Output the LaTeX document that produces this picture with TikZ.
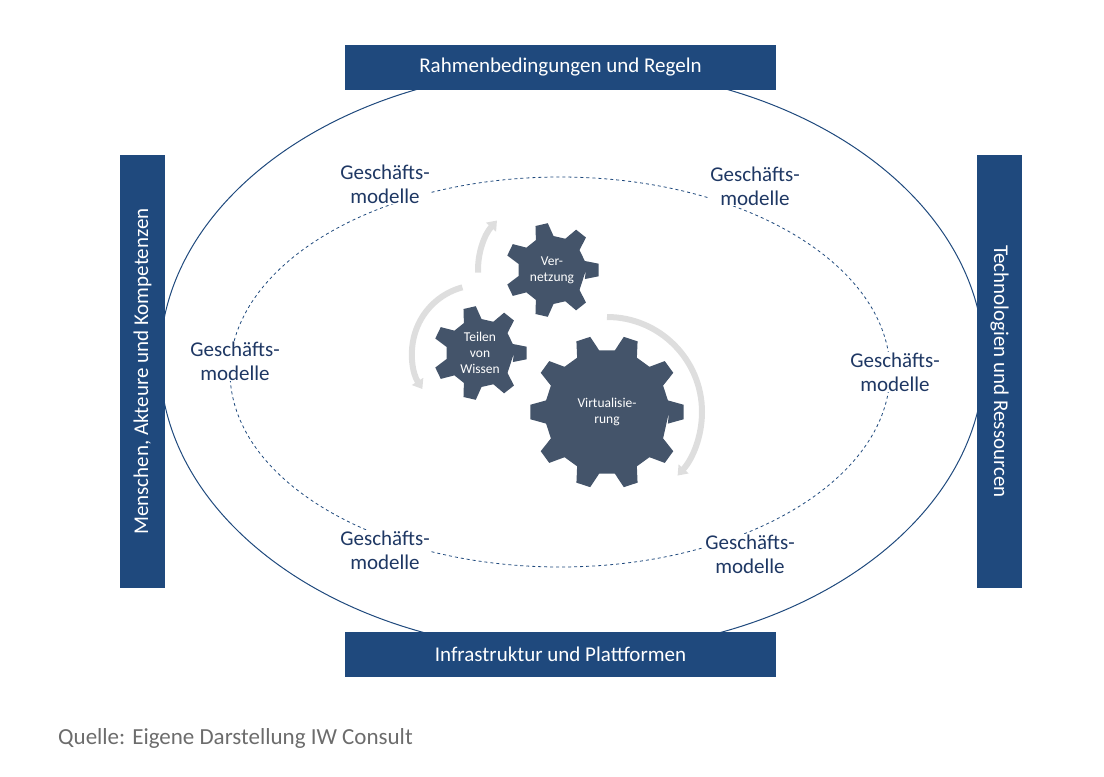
\documentclass[tikz,border=0pt]{standalone}
\usepackage{fontspec}
\setmainfont{Carlito}
\usetikzlibrary{arrows.meta,calc}

\definecolor{boxblue}{RGB}{31,73,125}
\definecolor{textblue}{RGB}{31,56,100}
\definecolor{gearslate}{RGB}{68,84,106}
\definecolor{arrowgrey}{RGB}{222,222,222}

% name, teeth, inner radius, outer radius
\newcommand{\gearshape}[4]{%
  \fill[gearslate] ($(#1)+(0:#3)$) \foreach \i in {1,...,#2} {
    -- ($(#1)+({360/#2*\i-0.3*360/#2}:#3)$)
    -- ($(#1)+({360/#2*\i-0.15*360/#2}:#4)$)
    -- ($(#1)+({360/#2*\i+0.15*360/#2}:#4)$)
    -- ($(#1)+({360/#2*\i+0.3*360/#2}:#3)$)
  } -- cycle;}

\begin{document}
\begin{tikzpicture}[x=1pt,y=-1pt,
  frame/.style={fill=boxblue,text=white,font=\fontsize{21}{24}\selectfont,inner sep=0pt},
  model/.style={fill=white,text=textblue,font=\fontsize{21}{24}\selectfont,align=center,inner sep=1pt},
  geartext/.style={text=white,font=\fontsize{13.5}{16}\selectfont,align=center},
  turn/.style={arrowgrey,line width=6pt,-{Triangle[length=9pt,width=13pt]}}]

\useasboundingbox (0,0) rectangle (1104,777);

% outer ring and model ring
\draw[boxblue,line width=1pt] (572,360) ellipse [x radius=412,y radius=292];
\draw[boxblue,line width=0.8pt,dashed] (560,372) ellipse [x radius=330,y radius=195];

% frame boxes
\node[frame,minimum width=431pt,minimum height=45pt] (rules) at (560.5,67.5) {Rahmenbedingungen und Regeln};
\node[frame,minimum width=431pt,minimum height=45pt] (infra) at (560.5,654.5) {Infrastruktur und Plattformen};
\node[frame,minimum width=433pt,minimum height=45pt,rotate=90] (people) at (142.5,371.5) {Menschen, Akteure und Kompetenzen};
\node[frame,minimum width=433pt,minimum height=45pt,rotate=-90] (tech) at (999.5,371.5) {Technologien und Ressourcen};

% business models
\node[model] (m1) at (385,184) {Geschäfts-\\modelle};
\node[model] (m2) at (755,186) {Geschäfts-\\modelle};
\node[model] (m3) at (235,361) {Geschäfts-\\modelle};
\node[model] (m4) at (895,372) {Geschäfts-\\modelle};
\node[model] (m5) at (385,550) {Geschäfts-\\modelle};
\node[model] (m6) at (750,554) {Geschäfts-\\modelle};

% turning arrows
\coordinate (cnet) at (552,270);
\coordinate (cshare) at (480,353);
\coordinate (cvirt) at (607,412);
\draw[turn] ($(cvirt)+(-90:95)$) arc[start angle=-90,end angle=42,radius=95];
\draw[turn] ($(cshare)+(-105:68)$) arc[start angle=-105,end angle=-212,radius=68];
\draw[turn] ($(cnet)+(178:74)$) arc[start angle=178,end angle=222,radius=74];

% gears
\gearshape{cnet}{7}{34}{47}
\gearshape{cshare}{7}{34}{47}
\gearshape{cvirt}{10}{62}{77}
\node[geartext] (net) at (cnet) {Ver-\\netzung};
\node[geartext] (share) at (cshare) {Teilen\\von\\Wissen};
\node[geartext] (virt) at (cvirt) {Virtualisie-\\rung};

\node[anchor=west,text=gray!85!black,font=\fontsize{23}{26}\selectfont,inner sep=0pt] (source) at (58,738) {Quelle: Eigene Darstellung IW Consult};
\end{tikzpicture}
\end{document}
